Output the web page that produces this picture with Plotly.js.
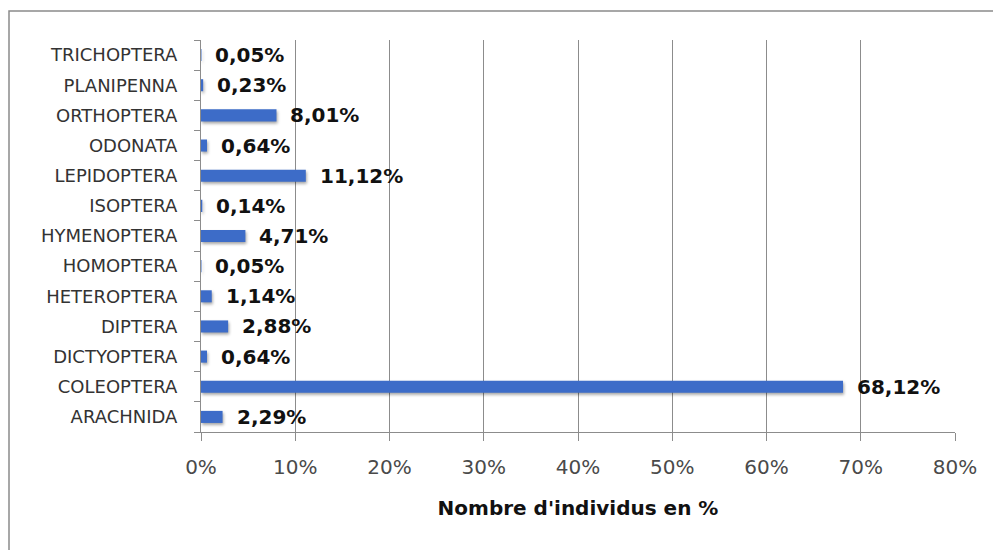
<!DOCTYPE html>
<html>
<head>
<meta charset="utf-8">
<script src="https://cdn.plot.ly/plotly-3.0.1.min.js"></script>
<style>
  html, body { margin: 0; padding: 0; background: #ffffff; }
  #chart { width: 993px; height: 550px; }
  .trace.bars path { filter: drop-shadow(1px 2px 1.5px rgba(0,0,0,0.35)); }
</style>
</head>
<body>
<div id="chart"></div>
<script>
// Insect orders, bottom to top
const orders = [
  'ARACHNIDA', 'COLEOPTERA', 'DICTYOPTERA', 'DIPTERA', 'HETEROPTERA',
  'HOMOPTERA', 'HYMENOPTERA', 'ISOPTERA', 'LEPIDOPTERA', 'ODONATA',
  'ORTHOPTERA', 'PLANIPENNA', 'TRICHOPTERA'
];
// Share of individuals, in %
const percents = [2.29, 68.12, 0.64, 2.88, 1.14, 0.05, 4.71, 0.14, 11.12, 0.64, 8.01, 0.23, 0.05];
const xTickVals = [0, 10, 20, 30, 40, 50, 60, 70, 80];
const xTickText = ['0%', '10%', '20%', '30%', '40%', '50%', '60%', '70%', '80%'];

const fmt = v => v.toFixed(2).replace('.', ',') + '%';

const FONT = 'DejaVu Sans, sans-serif';

const trace = {
  type: 'bar',
  orientation: 'h',
  y: orders,
  x: percents,
  width: 0.4,
  marker: { color: '#3d6cc8', line: { width: 0 } },
  hoverinfo: 'none'
};

const annotations = orders.map((o, i) => ({
  x: percents[i],
  y: o,
  xref: 'x',
  yref: 'y',
  text: fmt(percents[i]),
  showarrow: false,
  xanchor: 'left',
  yanchor: 'middle',
  xshift: 12,
  font: { family: FONT, size: 20, color: '#111111', weight: 700 }
}));

// Plot frame geometry in pixels
const W = 993, H = 550, L = 201, R = 38, T = 40, B = 118;
const pw = W - L - R, ph = H - T - B;
const px = x => (x - L) / pw;
const py = y => (H - B - y) / ph;

const layout = {
  width: W,
  height: H,
  margin: { l: L, r: R, t: T, b: B, pad: 0 },
  paper_bgcolor: '#ffffff',
  plot_bgcolor: '#ffffff',
  showlegend: false,
  bargap: 0.6,
  xaxis: {
    range: [0, 80],
    tickvals: xTickVals,
    ticktext: xTickText,
    showgrid: true,
    gridcolor: '#8c8c8c',
    gridwidth: 1,
    zeroline: false,
    showline: true,
    linecolor: '#8c8c8c',
    linewidth: 1,
    ticks: 'outside',
    ticklen: 8,
    tickcolor: '#8c8c8c',
    ticklabelstandoff: 9,
    tickfont: { family: FONT, size: 20, color: '#4a4a4a' },
    title: {
      text: "Nombre d'individus en %",
      standoff: 22,
      font: { family: FONT, size: 20, color: '#111111', weight: 700 }
    },
    fixedrange: true
  },
  yaxis: {
    type: 'category',
    showgrid: false,
    zeroline: false,
    showline: true,
    linecolor: '#8c8c8c',
    linewidth: 1,
    ticks: 'outside',
    tickson: 'boundaries',
    ticklen: 6,
    tickcolor: '#8c8c8c',
    ticklabelstandoff: 19,
    tickfont: { family: FONT, size: 18, color: '#333333' },
    fixedrange: true
  },
  annotations: annotations,
  shapes: [{
    type: 'rect',
    xref: 'paper', yref: 'paper',
    x0: px(9), x1: px(1000),
    y0: py(560), y1: py(11),
    line: { color: '#8a8a8a', width: 1.5 },
    fillcolor: 'rgba(0,0,0,0)',
    layer: 'below'
  }]
};

Plotly.newPlot('chart', [trace], layout, { displayModeBar: false, staticPlot: true });
</script>
</body>
</html>
